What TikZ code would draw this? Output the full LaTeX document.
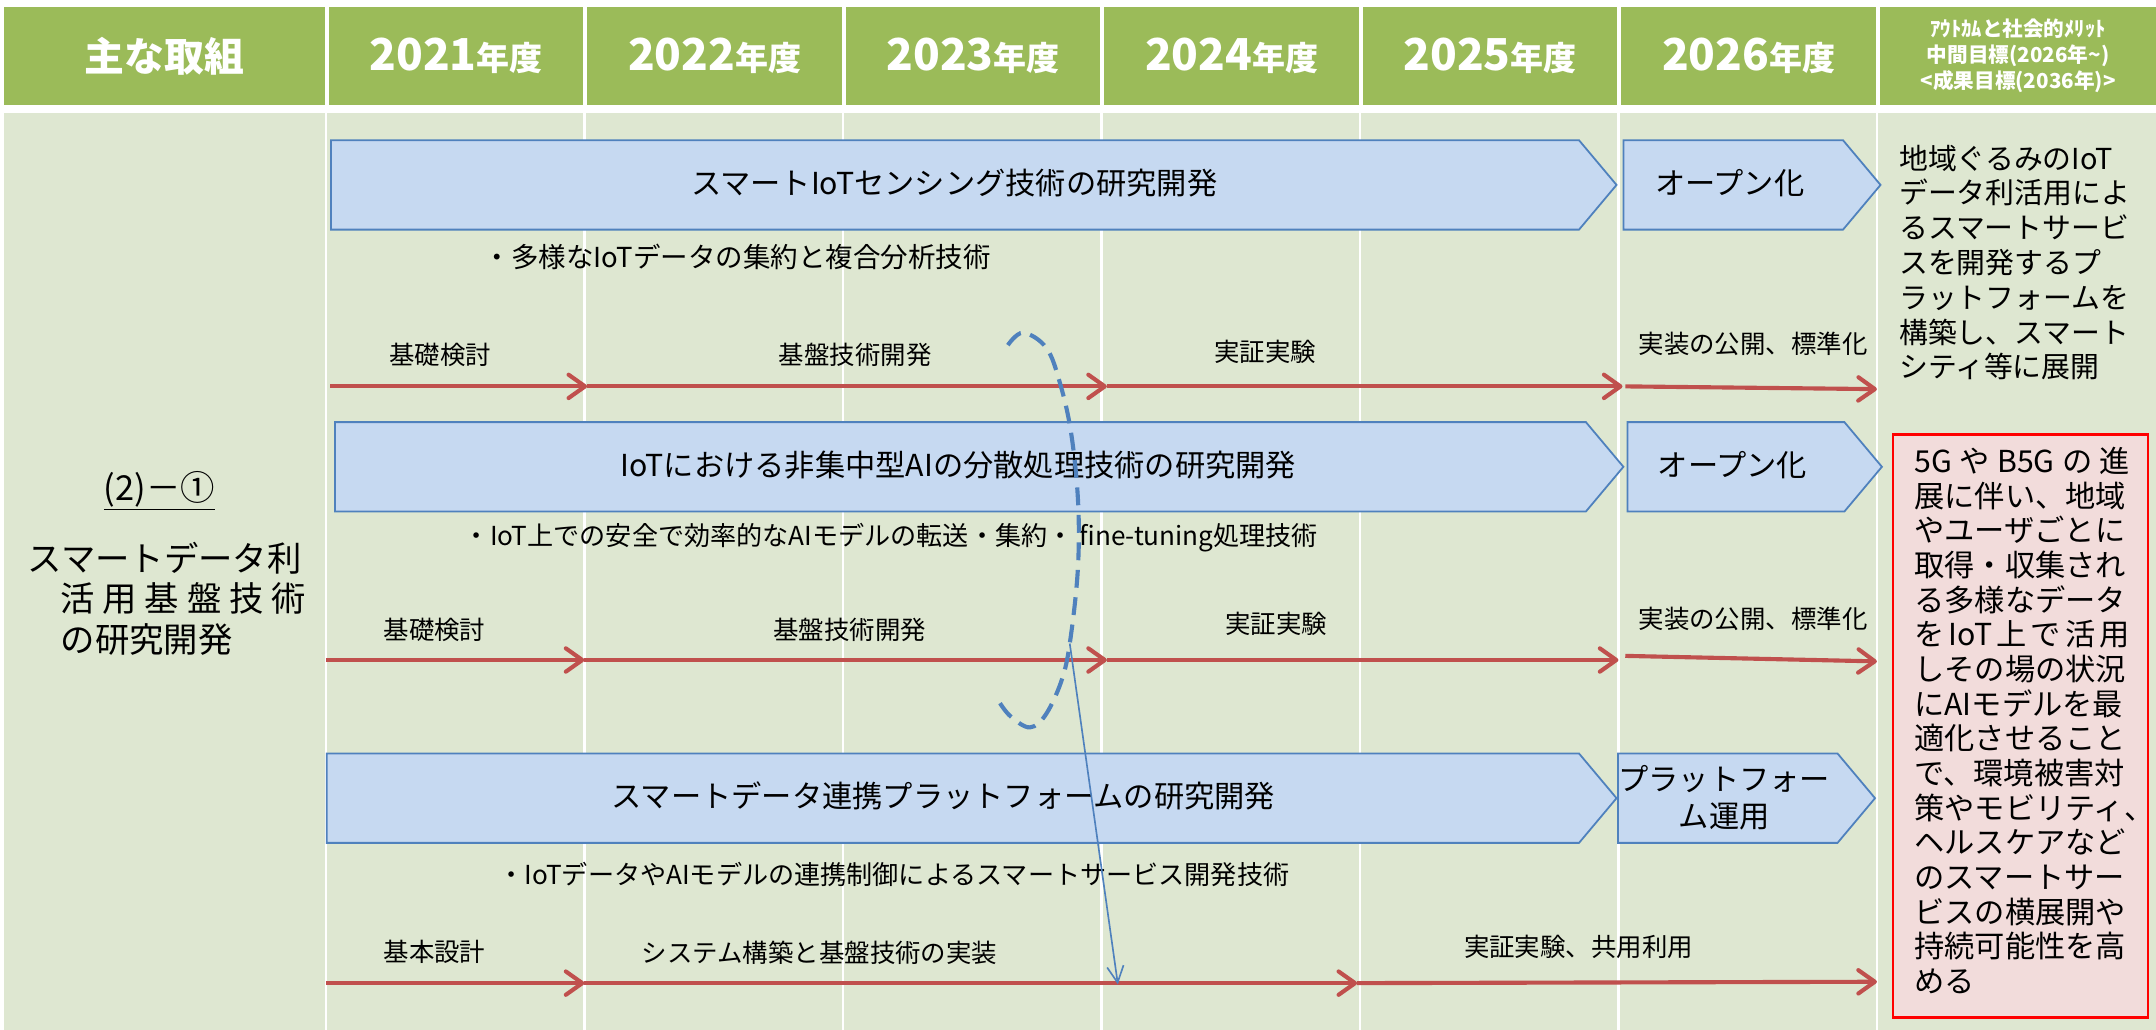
\documentclass[tikz,border=0pt]{standalone}
\usepackage{fontspec}
\setmainfont{Noto Sans CJK JP}
\usetikzlibrary{arrows.meta,shapes.symbols}
\definecolor{hdrgreen}{RGB}{155,187,89}
\definecolor{bodygreen}{RGB}{222,231,209}
\definecolor{boxfill}{RGB}{198,217,241}
\definecolor{boxline}{RGB}{79,129,189}
\definecolor{redline}{RGB}{192,80,77}
\definecolor{pinkfill}{RGB}{242,220,219}
\definecolor{goalred}{RGB}{255,0,0}
\tikzset{
  hdr/.style={fill=hdrgreen, text=white, font=\bfseries, minimum height=71, inner sep=0, anchor=north west},
  bodybg/.style={fill=bodygreen, inner sep=0, anchor=north west},
  divider/.style={draw=white, line width=2},
  pent/.style={shape=signal, signal to=east, signal pointer angle=100, fill=boxfill, draw=boxline, line width=1.3, minimum height=65, inner sep=0, anchor=west},
  ptext/.style={font=\fontsize{22}{27}\selectfont, inner sep=0, align=center},
  desc/.style={font=\fontsize{19}{23}\selectfont, inner sep=0},
  lbl/.style={font=\fontsize{18.5}{22}\selectfont, inner sep=0},
  redarr/.style={draw=redline, line width=3, -{Straight Barb[length=12, width=17, round]}},
  bluedash/.style={draw=boxline, line width=3, dash pattern=on 13 off 7},
  bluearr/.style={draw=boxline, line width=1.2, -{Straight Barb[length=12, width=12]}},
  lefttext/.style={font=\fontsize{25}{30}\selectfont, inner sep=0, anchor=west},
  rtext/.style={font=\fontsize{21}{25.3}\selectfont, inner sep=0, align=left, anchor=west},
  goalbox/.style={fill=pinkfill, draw=goalred, line width=1.5, minimum width=185, minimum height=424, inner sep=0},
  goaltext/.style={font=\fontsize{22}{25.2}\selectfont, inner sep=0, align=left, anchor=west},
}
\newcommand{\yr}[1]{{\fontsize{32}{36}\selectfont #1}{\fontsize{24}{28}\selectfont 年度}}
\begin{document}
\begin{tikzpicture}[x=1pt,y=-1pt]
\useasboundingbox (0,0) rectangle (1568,749);
\fill[white] (0,0) rectangle (1568,749);

% header
\node[hdr, minimum width=233] (h0) at (3,5) {\fontsize{29}{34}\selectfont 主な取組};
\node[hdr, minimum width=185] (h1) at (239,5) {\yr{2021}};
\node[hdr, minimum width=185] (h2) at (427,5) {\yr{2022}};
\node[hdr, minimum width=185] (h3) at (615,5) {\yr{2023}};
\node[hdr, minimum width=185] (h4) at (803,5) {\yr{2024}};
\node[hdr, minimum width=185] (h5) at (991,5) {\yr{2025}};
\node[hdr, minimum width=185] (h6) at (1179,5) {\yr{2026}};
\node[hdr, minimum width=201, align=center, font=\bfseries\fontsize{15}{19}\selectfont] (h7) at (1367,5)
  {ｱｳﾄｶﾑと社会的ﾒﾘｯﾄ\\中間目標(2026年{\char"7E})\\<成果目標(2036年)>};

% body
\node[bodybg, minimum width=1565, minimum height=667] (body) at (3,82) {};
\foreach \x in {237,425,613,801,989,1177,1365} \draw[divider] (\x,82) -- (\x,749);

% left column
\node[font=\fontsize{25}{30}\selectfont, inner sep=0] (num) at (116,357) {\underline{(2)－①}};
\node[lefttext] (l1) at (20,406) {スマートデータ利};
\node[lefttext] (l2) at (44,435) {\makebox[178pt][s]{活\hfill 用\hfill 基\hfill 盤\hfill 技\hfill 術}};
\node[lefttext] (l3) at (44,465) {の研究開発};

% row 1
\node[pent, minimum width=935] (p1) at (240,134.5) {};
\node[ptext] (p1t) at (694,133) {スマートIoTセンシング技術の研究開発};
\node[pent, minimum width=187] (p1b) at (1180,134.5) {};
\node[ptext] (p1bt) at (1258,133) {オープン化};
\node[desc, font=\fontsize{20}{23}\selectfont] (d1) at (536,187) {・多様なIoTデータの集約と複合分析技術};
\coordinate (r1a) at (240,281);
\coordinate (r1b) at (427,281);
\coordinate (r1c) at (805,281);
\coordinate (r1d) at (1180,281);
\coordinate (r1e) at (1182,281);
\coordinate (r1f) at (1365,283);
\draw[redarr] (r1a) -- (r1b);
\draw[redarr] (r1b) -- (r1c);
\draw[redarr] (r1c) -- (r1d);
\draw[redarr] (r1e) -- (r1f);
\node[lbl] (a11) at (320,258) {基礎検討};
\node[lbl] (a12) at (622,258) {基盤技術開発};
\node[lbl] (a13) at (920,256) {実証実験};
\node[lbl] (a14) at (1275,250) {実装の公開、標準化};

% row 2
\node[pent, minimum width=937] (p2) at (243,339.5) {};
\node[ptext] (p2t) at (697,338) {IoTにおける非集中型AIの分散処理技術の研究開発};
\node[pent, minimum width=185] (p2b) at (1183,339.5) {};
\node[ptext] (p2bt) at (1260,338) {オープン化};
\node[desc] (d2) at (648,391) {・IoT上での安全で効率的なAIモデルの転送・集約・ fine-tuning処理技術};
\coordinate (r2a) at (237,480);
\coordinate (r2b) at (425,480);
\coordinate (r2c) at (805,480);
\coordinate (r2d) at (1177,480);
\coordinate (r2e) at (1182,477);
\coordinate (r2f) at (1365,481);
\draw[redarr] (r2a) -- (r2b);
\draw[redarr] (r2b) -- (r2c);
\draw[redarr] (r2c) -- (r2d);
\draw[redarr] (r2e) -- (r2f);
\node[lbl] (a21) at (316,458) {基礎検討};
\node[lbl] (a22) at (618,458) {基盤技術開発};
\node[lbl] (a23) at (928,454) {実証実験};
\node[lbl] (a24) at (1275,450) {実装の公開、標準化};

% row 3
\node[pent, minimum width=938] (p3) at (237,580.5) {};
\node[ptext] (p3t) at (686,579) {スマートデータ連携プラットフォームの研究開発};
\node[pent, minimum width=187] (p3b) at (1176,580.5) {};
\node[ptext] (p3bt) at (1254,580) {プラットフォー\\ム運用};
\node[desc] (d3) at (650,636) {・IoTデータやAIモデルの連携制御によるスマートサービス開発技術};
\coordinate (r3a) at (237,715);
\coordinate (r3b) at (425,715);
\coordinate (r3c) at (987,715);
\coordinate (r3d) at (1365,714);
\draw[redarr] (r3a) -- (r3b);
\draw[redarr] (r3b) -- (r3c);
\draw[redarr] (r3c) -- (r3d);
\node[lbl] (a31) at (316,692) {基本設計};
\node[lbl] (a32) at (596,693) {システム構築と基盤技術の実装};
\node[lbl] (a33) at (1148,689) {実証実験、共用利用};

% right column
\node[rtext] (out) at (1381,191) {地域ぐるみのIoT\\データ利活用によ\\るスマートサービ\\スを開発するプ\\ラットフォームを\\構築し、スマート\\シティ等に展開};
\node[goalbox] (goal) at (1469.5,528) {};
\node[goaltext] (goalt) at (1392,524) {\makebox[157pt][s]{5G\hfill や\hfill B5G\hfill の\hfill 進}\\展に伴い、地域\\やユーザごとに\\取得・収集され\\る多様なデータ\\\makebox[157pt][s]{を\hfill IoT\hfill 上\hfill で\hfill 活\hfill 用}\\しその場の状況\\にAIモデルを最\\適化させること\\で、環境被害対\\策やモビリティ\rlap{、}\\ヘルスケアなど\\のスマートサー\\ビスの横展開や\\持続可能性を高\\める};

% blue dashed curve and arrow
\draw[bluedash] plot[smooth, tension=0.6] coordinates {(733,251) (744,242) (761,253) (771,279) (779,315) (784,364) (784,412) (779,461) (773,492) (761,519) (749,529) (735,521) (727,511)};
\coordinate (bs) at (778,468);
\coordinate (be) at (813,716);
\draw[bluearr] (bs) -- (be);
\end{tikzpicture}
\end{document}
